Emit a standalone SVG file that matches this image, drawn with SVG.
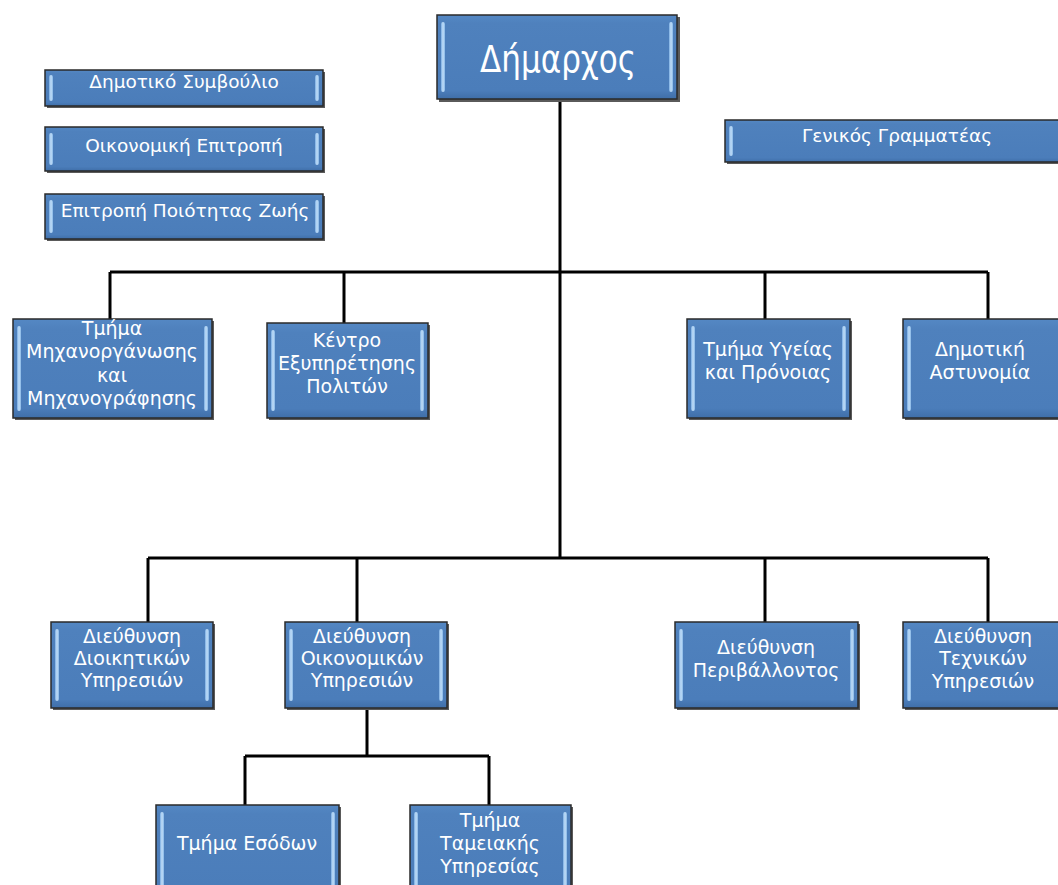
<svg xmlns="http://www.w3.org/2000/svg" width="1058" height="885" viewBox="0 0 1058 885">
<defs>
<linearGradient id="bev" x1="0" y1="0" x2="1" y2="0">
<stop offset="0" stop-color="#7fb2e6"/>
<stop offset="0.5" stop-color="#cfe9ff"/>
<stop offset="1" stop-color="#8cbcea"/>
</linearGradient>
<linearGradient id="fillg" x1="0" y1="0" x2="0" y2="1">
<stop offset="0" stop-color="#5488c4"/>
<stop offset="0.1" stop-color="#4f81bd"/>
<stop offset="0.9" stop-color="#4b7dba"/>
<stop offset="1" stop-color="#3f6ea8"/>
</linearGradient>
</defs>
<style>
.sh{fill:#5a5a5a}
.box{fill:url(#fillg);stroke:#2a2a2a;stroke-width:1.5}
.bev{fill:url(#bev);opacity:0.9}
.t{font-family:"DejaVu Sans","Liberation Sans",sans-serif;font-size:19px;fill:#ffffff;text-anchor:middle}
.s{font-size:18.5px}
.ln{stroke:#000;stroke-width:3;fill:none}
</style>
<rect width="1058" height="885" fill="#ffffff"/>
<g id="connectors">
<path class="ln" d="M560 99V558M110 272H988M110 272V319M344 272V323M765 272V319M988 272V319M148 558H988M148 558V622M357 558V622M765 558V622M988 558V622M367 708V756M245 756H489M245 756V805M489 756V805"/>
</g>
<g id="mayor">
<rect class="sh" x="439" y="17" width="241" height="85"/>
<rect class="box" x="437" y="15" width="240" height="84"/>
<rect class="bev" x="441" y="22" width="4" height="70" rx="2"/>
<rect class="bev" x="669" y="22" width="4" height="70" rx="2"/>
<text class="t" x="558" y="72" style="font-size:38px" textLength="156" lengthAdjust="spacingAndGlyphs">Δήμαρχος</text>
</g>
<g id="council">
<rect class="sh" x="47" y="72" width="278" height="36"/>
<rect class="box" x="45" y="70" width="278" height="36"/>
<rect class="bev" x="49" y="75" width="4" height="26" rx="2"/>
<rect class="bev" x="315" y="75" width="4" height="26" rx="2"/>
<text class="t s" x="184" y="88">Δημοτικό Συμβούλιο</text>
</g>
<g id="finance">
<rect class="sh" x="47" y="129" width="278" height="44"/>
<rect class="box" x="45" y="127" width="278" height="44"/>
<rect class="bev" x="49" y="133" width="4" height="32" rx="2"/>
<rect class="bev" x="315" y="133" width="4" height="32" rx="2"/>
<text class="t s" x="184" y="152">Οικονομική  Επιτροπή</text>
</g>
<g id="quality">
<rect class="sh" x="47" y="196" width="278" height="45"/>
<rect class="box" x="45" y="194" width="278" height="45"/>
<rect class="bev" x="49" y="200" width="4" height="33" rx="2"/>
<rect class="bev" x="315" y="200" width="4" height="33" rx="2"/>
<text class="t s" x="185" y="217">Επιτροπή Ποιότητας Ζωής</text>
</g>
<g id="secretary">
<rect class="sh" x="727" y="122" width="340" height="42"/>
<rect class="box" x="725" y="120" width="340" height="42"/>
<rect class="bev" x="729" y="126" width="4" height="30" rx="2"/>
<text class="t s" x="897" y="142">Γενικός Γραμματέας</text>
</g>
<g id="it">
<rect class="sh" x="15" y="321" width="199" height="99"/>
<rect class="box" x="13" y="319" width="199" height="99"/>
<rect class="bev" x="17" y="326" width="4" height="85" rx="2"/>
<rect class="bev" x="204" y="326" width="4" height="85" rx="2"/>
<text class="t" x="112" y="335">Τμήμα</text>
<text class="t" x="112" y="358">Μηχανοργάνωσης</text>
<text class="t" x="112" y="382">και</text>
<text class="t" x="112" y="405">Μηχανογράφησης</text>
</g>
<g id="kep">
<rect class="sh" x="269" y="325" width="161" height="95"/>
<rect class="box" x="267" y="323" width="161" height="95"/>
<rect class="bev" x="271" y="330" width="4" height="81" rx="2"/>
<rect class="bev" x="420" y="330" width="4" height="81" rx="2"/>
<text class="t" x="347" y="347">Κέντρο</text>
<text class="t" x="347" y="370">Εξυπηρέτησης</text>
<text class="t" x="347" y="393">Πολιτών</text>
</g>
<g id="health">
<rect class="sh" x="689" y="321" width="163" height="99"/>
<rect class="box" x="687" y="319" width="163" height="99"/>
<rect class="bev" x="691" y="326" width="4" height="85" rx="2"/>
<rect class="bev" x="842" y="326" width="4" height="85" rx="2"/>
<text class="t" x="768" y="356">Τμήμα Υγείας</text>
<text class="t" x="768" y="379">και Πρόνοιας</text>
</g>
<g id="police">
<rect class="sh" x="905" y="321" width="170" height="99"/>
<rect class="box" x="903" y="319" width="170" height="99"/>
<rect class="bev" x="907" y="326" width="4" height="85" rx="2"/>
<text class="t" x="980" y="356">Δημοτική</text>
<text class="t" x="980" y="379">Αστυνομία</text>
</g>
<g id="admin">
<rect class="sh" x="53" y="624" width="162" height="86"/>
<rect class="box" x="51" y="622" width="162" height="86"/>
<rect class="bev" x="55" y="629" width="4" height="72" rx="2"/>
<rect class="bev" x="205" y="629" width="4" height="72" rx="2"/>
<text class="t" x="132" y="643">Διεύθυνση</text>
<text class="t" x="132" y="665">Διοικητικών</text>
<text class="t" x="132" y="687">Υπηρεσιών</text>
</g>
<g id="econ">
<rect class="sh" x="287" y="624" width="162" height="86"/>
<rect class="box" x="285" y="622" width="162" height="86"/>
<rect class="bev" x="289" y="629" width="4" height="72" rx="2"/>
<rect class="bev" x="439" y="629" width="4" height="72" rx="2"/>
<text class="t" x="362" y="643">Διεύθυνση</text>
<text class="t" x="362" y="665">Οικονομικών</text>
<text class="t" x="362" y="687">Υπηρεσιών</text>
</g>
<g id="env">
<rect class="sh" x="677" y="624" width="183" height="86"/>
<rect class="box" x="675" y="622" width="183" height="86"/>
<rect class="bev" x="679" y="629" width="4" height="72" rx="2"/>
<rect class="bev" x="850" y="629" width="4" height="72" rx="2"/>
<text class="t" x="766" y="654">Διεύθυνση</text>
<text class="t" x="766" y="677">Περιβάλλοντος</text>
</g>
<g id="tech">
<rect class="sh" x="905" y="624" width="170" height="86"/>
<rect class="box" x="903" y="622" width="170" height="86"/>
<rect class="bev" x="907" y="629" width="4" height="72" rx="2"/>
<text class="t" x="983" y="643">Διεύθυνση</text>
<text class="t" x="983" y="665">Τεχνικών</text>
<text class="t" x="983" y="688">Υπηρεσιών</text>
</g>
<g id="revenue">
<rect class="sh" x="158" y="807" width="183" height="90"/>
<rect class="box" x="156" y="805" width="183" height="90"/>
<rect class="bev" x="160" y="812" width="4" height="80" rx="2"/>
<rect class="bev" x="331" y="812" width="4" height="80" rx="2"/>
<text class="t" x="247" y="850">Τμήμα Εσόδων</text>
</g>
<g id="treasury">
<rect class="sh" x="412" y="807" width="161" height="90"/>
<rect class="box" x="410" y="805" width="161" height="90"/>
<rect class="bev" x="414" y="812" width="4" height="80" rx="2"/>
<rect class="bev" x="563" y="812" width="4" height="80" rx="2"/>
<text class="t" x="490" y="827">Τμήμα</text>
<text class="t" x="490" y="850">Ταμειακής</text>
<text class="t" x="490" y="873">Υπηρεσίας</text>
</g>
</svg>
